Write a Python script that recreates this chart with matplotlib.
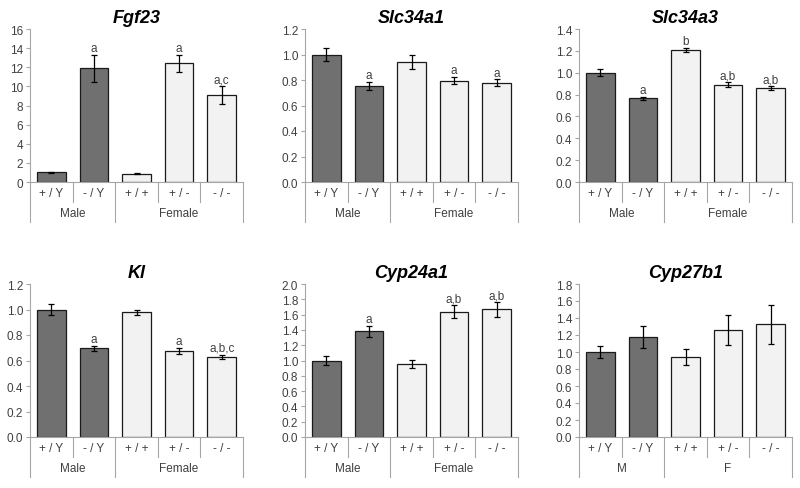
import numpy as np
import matplotlib.pyplot as plt
import matplotlib.transforms as mtransforms

plt.rcParams['font.family'] = ['Liberation Sans', 'DejaVu Sans']

# data
genotypes = ['+ / Y', '- / Y', '+ / +', '+ / -', '- / -']
genes = ['Fgf23', 'Slc34a1', 'Slc34a3', 'Kl', 'Cyp24a1', 'Cyp27b1']

fgf23 = [1.0, 11.9, 0.85, 12.4, 9.1]
fgf23_err = [0.05, 1.4, 0.05, 0.9, 0.9]
fgf23_sig = ['', 'a', '', 'a', 'a,c']

slc34a1 = [1.0, 0.755, 0.945, 0.795, 0.78]
slc34a1_err = [0.05, 0.03, 0.055, 0.03, 0.025]
slc34a1_sig = ['', 'a', '', 'a', 'a']

slc34a3 = [1.0, 0.765, 1.205, 0.89, 0.86]
slc34a3_err = [0.03, 0.015, 0.02, 0.022, 0.02]
slc34a3_sig = ['', 'a', 'b', 'a,b', 'a,b']

kl = [1.0, 0.695, 0.98, 0.675, 0.63]
kl_err = [0.045, 0.02, 0.02, 0.022, 0.015]
kl_sig = ['', 'a', '', 'a', 'a,b,c']

cyp24a1 = [1.0, 1.38, 0.955, 1.635, 1.67]
cyp24a1_err = [0.055, 0.07, 0.05, 0.085, 0.095]
cyp24a1_sig = ['', 'a', '', 'a,b', 'a,b']

cyp27b1 = [1.0, 1.18, 0.94, 1.255, 1.325]
cyp27b1_err = [0.065, 0.13, 0.095, 0.175, 0.225]
cyp27b1_sig = ['', '', '', '', '']

ymax = [16, 1.2, 1.4, 1.2, 2.0, 1.8]
ystep = [2, 0.2, 0.2, 0.2, 0.2, 0.2]
groups_long = ['Male', 'Female']
groups_short = ['M', 'F']

values = [fgf23, slc34a1, slc34a3, kl, cyp24a1, cyp27b1]
errors = [fgf23_err, slc34a1_err, slc34a3_err, kl_err, cyp24a1_err, cyp27b1_err]
sigs = [fgf23_sig, slc34a1_sig, slc34a3_sig, kl_sig, cyp24a1_sig, cyp27b1_sig]
group_names = [groups_long] * 5 + [groups_short]

colors = ['#707070', '#707070', '#f2f2f2', '#f2f2f2', '#f2f2f2']
gray = '#a6a6a6'
txt = '#404040'

fig = plt.figure(figsize=(8, 4.89), dpi=100)
W, H = 800, 489
lefts = [30, 305, 579]
width = 213
tops = [30, 285]
ax_h = 153

for i in range(6):
    r, c = divmod(i, 3)
    ax = fig.add_axes([lefts[c] / W, 1 - (tops[r] + ax_h) / H, width / W, ax_h / H])
    x = np.arange(5)
    ax.bar(x, values[i], width=0.67, color=colors, edgecolor='#1a1a1a', linewidth=0.9, zorder=2)
    ax.errorbar(x, values[i], yerr=errors[i], fmt='none', ecolor='black', elinewidth=0.9,
                capsize=2.5, capthick=0.9, zorder=3)
    for xi, v, e, s in zip(x, values[i], errors[i], sigs[i]):
        if s:
            ax.text(xi, v + e + ymax[i] * 0.005, s, ha='center', va='bottom', fontsize=8.5, color=txt)
    ax.set_xlim(-0.5, 4.5)
    ax.set_ylim(0, ymax[i])
    ticks = np.arange(0, ymax[i] + ystep[i] / 2, ystep[i])
    ax.set_yticks(ticks)
    if ymax[i] > 2:
        ax.set_yticklabels(['%d' % t for t in ticks])
    else:
        ax.set_yticklabels(['%.1f' % t for t in ticks])
    ax.tick_params(axis='y', labelsize=8.5, labelcolor=txt, color=gray, length=3, width=0.8, pad=2)
    ax.set_xticks([])
    for sp in ['top', 'right']:
        ax.spines[sp].set_visible(False)
    ax.spines['left'].set_color(gray)
    ax.spines['bottom'].set_color(gray)
    ax.spines['left'].set_linewidth(0.8)
    ax.spines['bottom'].set_linewidth(0.8)
    ax.set_title(genes[i], fontsize=13, fontweight='bold', fontstyle='italic', pad=5)

    trans = mtransforms.blended_transform_factory(ax.transData, ax.transAxes)
    for xi, g in zip(x, genotypes):
        ax.text(xi, -0.075, g, transform=trans, ha='center', va='center', fontsize=8.5, color=txt)
    for b in [-0.5, 0.5, 1.5, 2.5, 3.5, 4.5]:
        low = -0.26 if b in (-0.5, 1.5, 4.5) else -0.13
        ax.plot([b, b], [0, low], transform=trans, color=gray, lw=0.8, clip_on=False)
    ax.text(0.5, -0.205, group_names[i][0], transform=trans, ha='center', va='center', fontsize=8.5, color=txt)
    ax.text(3.0, -0.205, group_names[i][1], transform=trans, ha='center', va='center', fontsize=8.5, color=txt)

fig.savefig('out.png', dpi=100, facecolor='white')
